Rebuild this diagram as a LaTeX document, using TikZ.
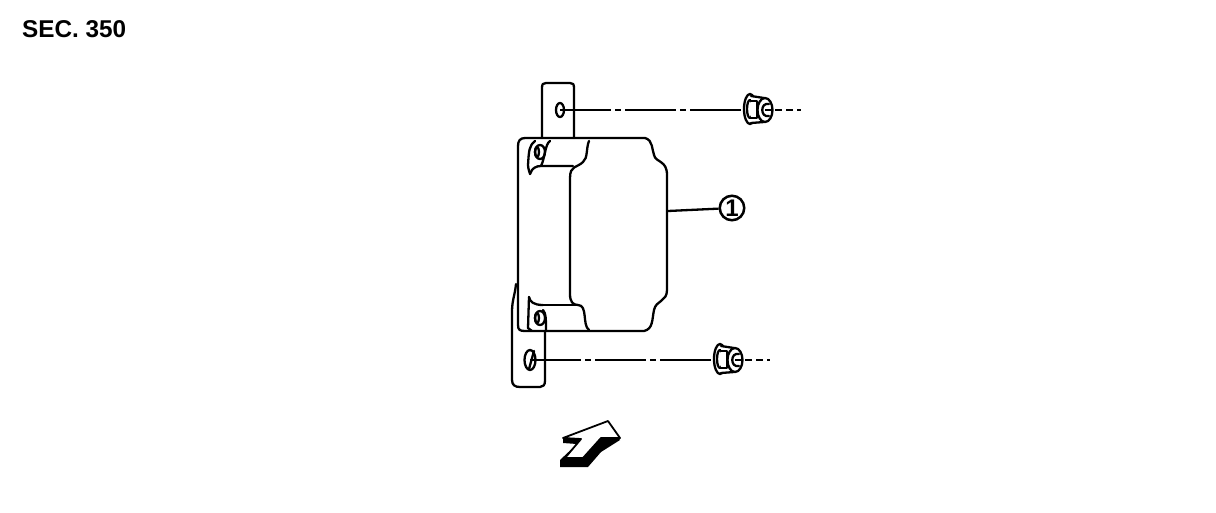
\documentclass[tikz,border=0pt]{standalone}
\usepackage{fontspec}
\setmainfont{Liberation Sans}
\usetikzlibrary{positioning}
\tikzset{
  part/.style = { line width = 2.3pt, line join = round, line cap = round },
  centerline/.style = { line width = 2.3pt, dash pattern = on 51pt off 4pt on 6pt off 4pt },
  tailline/.style = { line width = 2.3pt, dash pattern = on 7pt off 4pt },
  callout/.style = { draw, circle, line width = 2.5pt, inner sep = 0pt, minimum size = 24.5pt, font = \fontsize{24}{24}\selectfont\bfseries },
  nut/.pic = {
    \draw [part, fill = white] (-2,-1) ellipse (6 and 15);
    \draw [part] (-2,-1) ellipse (3 and 9);
    \draw [part, fill = white] (-1,-14) -- (12,-12) -- (12,12) -- (-1,13);
    \draw [part] (-1,-9) -- (5,-9) -- (5,8) -- (-1,8);
    \draw [part, fill = white] (13,0) ellipse (7.5 and 12);
    \draw [part] (17,-6) .. controls (8,-8) and (8,8) .. (17,6);
  }
}
\begin{document}
\begin{tikzpicture}[x = 1pt, y = -1pt]
  \useasboundingbox (0,0) rectangle (1216,512);
  \node [anchor = base west, inner sep = 0pt, font = \fontsize{24.3}{25}\selectfont\bfseries] (title) at (22,37) {SEC. 350};

  % upper bracket
  \draw [part] (542,138) -- (542,88) .. controls (542,84) and (543,83) .. (546,83)
    -- (570,83) .. controls (573,83) and (574,84) .. (574,88) -- (574,138);
  \draw [part] (560,110) ellipse (4 and 7);

  % module body
  \draw [part] (518,325) -- (518,146) .. controls (518,141) and (520,138) .. (525,138)
    -- (645,138) .. controls (653,140) and (652,150) .. (654,155)
    .. controls (656,163) and (667,160) .. (667,175) -- (667,290)
    .. controls (667,302) and (656,300) .. (654,310)
    .. controls (652,320) and (653,329) .. (644,331) -- (525,331)
    .. controls (520,331) and (518,330) .. (518,325);

  % inner outline
  \draw [part] (589,141) .. controls (586,148) and (588,158) .. (583,162)
    .. controls (577,168) and (570,165) .. (570,178) -- (570,294)
    .. controls (570,302) and (573,305) .. (578,305)
    .. controls (588,305) and (582,325) .. (589,330);
  \draw [part] (543,305) -- (578,305);

  % upper tab
  \draw [part] (535,141) .. controls (529,146) and (529,150) .. (528,165)
    .. controls (528,169) and (530,173) .. (530,174);
  \draw [part] (530,174) .. controls (532,168) and (536,166) .. (541,166) -- (573,166);
  \draw [part] (550,141) .. controls (545,144) and (545,158) .. (541,166);
  \draw [part] (540,152) ellipse (5 and 7);
  \draw [part] (537,152) ellipse (2 and 5);

  % lower tab
  \draw [part] (529,297) .. controls (530,302) and (534,305) .. (543,305);
  \draw [part] (529,297) -- (528,328) -- (532,331);
  \draw [part] (543,310) .. controls (546,313) and (546,320) .. (546,331);
  \draw [part] (540,318) ellipse (5 and 7);
  \draw [part] (537,318) ellipse (2 and 5);

  % lower bracket
  \draw [part] (545,331) -- (545,381) .. controls (545,385) and (543,387) .. (540,387)
    -- (520,387) .. controls (515,387) and (512,385) .. (512,380) -- (512,312)
    .. controls (512,300) and (515,295) .. (516,284);
  \draw [part] (530,360) ellipse (5.5 and 10);
  \draw [part] (529,369) -- (534,351);

  % center lines and nuts
  \coordinate (topHole) at (560,110);
  \coordinate (topStud) at (752,110);
  \coordinate (topEnd) at (801,110);
  \coordinate (lowHole) at (530,360);
  \coordinate (lowStud) at (722,360);
  \coordinate (lowEnd) at (770,360);
  \draw [centerline] (topHole) -- (topStud);
  \draw [centerline] (lowHole) -- (lowStud);
  \pic at (752,110) {nut};
  \pic at (722,360) {nut};
  \draw [line width = 2.3pt] (765,110) -- (772,110);
  \draw [line width = 2.3pt] (735,360) -- (742,360);
  \draw [tailline] (775,110) -- (topEnd);
  \draw [tailline] (745,360) -- (lowEnd);

  % callout
  \node [callout] (partOne) at (732,208) {1};
  \coordinate (lead) at (668,211);
  \draw [line width = 2.3pt] (lead) -- (partOne);

  % view arrow
  \fill (563,438) -- (563,443) -- (577,444) -- (560,460) -- (560,467) -- (588,467)
    -- (601,452) -- (620,440) -- (608,421) -- cycle;
  \draw [line width = 1.8pt, fill = white, line join = round] (563,438) -- (608,421) -- (620,438)
    -- (601,438) -- (583,458) -- (565,458) -- (581,439) -- cycle;
\end{tikzpicture}
\end{document}
